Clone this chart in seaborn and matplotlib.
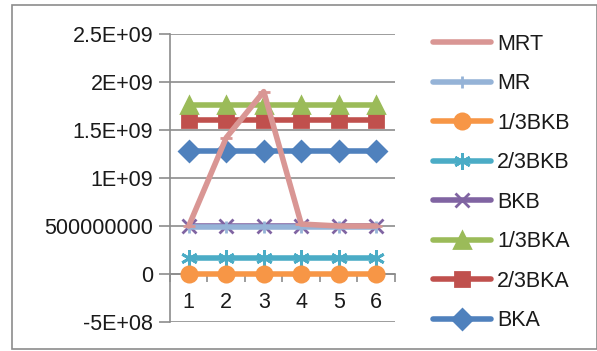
import matplotlib
matplotlib.use("Agg")
import matplotlib.pyplot as plt
import seaborn as sns
import pandas as pd
from matplotlib.patches import Rectangle
from matplotlib.ticker import FixedLocator, FixedFormatter

categories = [1, 2, 3, 4, 5, 6]
series_names = ["MRT", "MR", "1/3BKB", "2/3BKB", "BKB", "1/3BKA", "2/3BKA", "BKA"]
mrt = [5.0e8, 1.42e9, 1.9e9, 5.2e8, 5.0e8, 5.0e8]
mr = [4.9e8, 4.9e8, 4.9e8, 4.9e8, 4.9e8, 4.9e8]
bkb_13 = [0, 0, 0, 0, 0, 0]
bkb_23 = [1.65e8, 1.65e8, 1.65e8, 1.65e8, 1.65e8, 1.65e8]
bkb = [4.95e8, 4.95e8, 4.95e8, 4.95e8, 4.95e8, 4.95e8]
bka_13 = [1.76e9, 1.76e9, 1.76e9, 1.76e9, 1.76e9, 1.76e9]
bka_23 = [1.6e9, 1.6e9, 1.6e9, 1.6e9, 1.6e9, 1.6e9]
bka = [1.28e9, 1.28e9, 1.28e9, 1.28e9, 1.28e9, 1.28e9]
y_ticks = [-5e8, 0, 5e8, 1e9, 1.5e9, 2e9, 2.5e9]
y_tick_labels = ["-5E+08", "0", "500000000", "1E+09", "1.5E+09", "2E+09", "2.5E+09"]

values = [mrt, mr, bkb_13, bkb_23, bkb, bka_13, bka_23, bka]
colors = ["#D99694", "#95B3D7", "#F79646", "#4BACC6", "#8064A2", "#9BBB59", "#C0504D", "#4F81BD"]
markers = ["_", "|", "o", (6, 2, 0), "x", "^", "s", "D"]
msizes = [9, 9, 11, 12, 10, 11, 10, 10]

sns.set_style("white")
plt.rcParams["font.family"] = ["Liberation Sans", "DejaVu Sans"]
FS = 15.5

W, H = 597, 351
fig = plt.figure(figsize=(W / 100, H / 100), dpi=100)
ax = fig.add_axes([170 / W, 1 - 322 / H, (395 - 170) / W, (322 - 34) / H])

df = pd.DataFrame({
    "x": categories * len(series_names),
    "y": [v for s in values for v in s],
    "series": [n for n in series_names for _ in categories],
})

handles = {}
for i in reversed(range(len(series_names))):
    name = series_names[i]
    sub = df[df["series"] == name]
    sns.lineplot(data=sub, x="x", y="y", ax=ax, color=colors[i], linewidth=4,
                 marker=markers[i], markersize=msizes[i], markeredgewidth=2,
                 markeredgecolor=colors[i], label=name, legend=False, zorder=3 + (8 - i))
    handles[name] = ax.lines[-1]

ax.set_xlim(0.5, 6.5)
ax.set_ylim(-5e8, 2.5e9)
ax.set_xlabel("")
ax.set_ylabel("")

for s in ["top", "right"]:
    ax.spines[s].set_visible(False)
ax.spines["left"].set_color("#8c8c8c")
ax.spines["left"].set_linewidth(1.2)
ax.spines["bottom"].set_position(("data", 0))
ax.spines["bottom"].set_color("#8c8c8c")
ax.spines["bottom"].set_linewidth(1.2)

ax.yaxis.set_major_locator(FixedLocator(y_ticks))
ax.yaxis.set_major_formatter(FixedFormatter(y_tick_labels))
ax.grid(axis="y", color="#8c8c8c", linewidth=1.2)
ax.tick_params(axis="y", length=8, width=1.2, color="#8c8c8c", direction="out",
               labelsize=FS, labelcolor="#1a1a1a", pad=4, left=True)

ax.set_xticks(categories)
ax.set_xticklabels([str(c) for c in categories])
ax.set_xticks([0.5, 1.5, 2.5, 3.5, 4.5, 5.5, 6.5], minor=True)
ax.tick_params(axis="x", which="major", length=0, labelsize=FS, labelcolor="#1a1a1a", pad=13)
ax.tick_params(axis="x", which="minor", length=6, width=1.2, color="#8c8c8c",
               direction="out", bottom=True)

leg_handles = [handles[n] for n in series_names]
leg = fig.legend(leg_handles, series_names, loc="upper left",
                 bbox_to_anchor=(424 / W, 1 - 25 / H), frameon=False,
                 fontsize=FS, handlelength=2.7, handletextpad=0.3,
                 labelspacing=0.86, borderaxespad=0)
for t in leg.get_texts():
    t.set_color("#1a1a1a")

fig.patches.append(Rectangle((12 / W, 1 - 349 / H), (W - 12) / W, (349 - 5) / H,
                             transform=fig.transFigure, fill=False,
                             edgecolor="#8c8c8c", linewidth=1.2))

fig.savefig("out.png", dpi=100)
